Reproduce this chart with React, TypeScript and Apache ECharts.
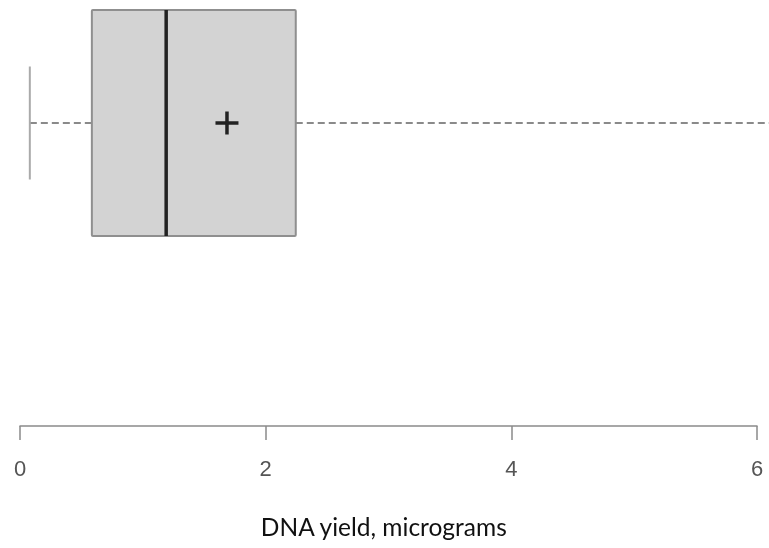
import React, { useEffect, useRef } from "react";
import * as echarts from "echarts";

const xTicks = [0, 2, 4, 6];
const boxStats = [{ min: 0.08, q1: 0.585, median: 1.19, q3: 2.245, max: 6.4, mean: 1.685 }];
const axisTitle = "DNA yield, micrograms";

export default function App() {
  const ref = useRef<HTMLDivElement>(null);
  useEffect(() => {
    if (!ref.current) return;
    const chart = echarts.init(ref.current, undefined, { renderer: "svg" });
    const data = boxStats.map((b) => [b.min, b.q1, b.median, b.q3, b.max, b.mean]);
    chart.setOption({
      animation: false,
      grid: { left: 20, right: 12, top: 0, bottom: 122 },
      xAxis: {
        type: "value",
        min: 0,
        max: 6,
        interval: 2,
        axisLine: { show: true, lineStyle: { color: "#8a8a8a", width: 1.5 } },
        axisTick: { show: true, inside: false, length: 14, lineStyle: { color: "#8a8a8a", width: 1.5 } },
        axisLabel: {
          margin: 31,
          fontSize: 22,
          color: "#555",
          fontFamily: "Liberation Sans",
          formatter: (v: number) => (xTicks.includes(v) ? String(v) : ""),
        },
        splitLine: { show: false },
      },
      yAxis: { type: "value", min: 0, max: 1, show: false },
      graphic: [
        {
          type: "text",
          left: "center",
          top: 514,
          style: {
            text: axisTitle,
            fontSize: 24.5,
            fill: "#111",
            fontFamily: "Lato",
          },
        },
      ],
      series: [
        {
          type: "custom",
          clip: false,
          data,
          renderItem: (params: any, api: any) => {
            const yc = 123;
            const half = 113;
            const cap = 56.5;
            const px = (v: number) => api.coord([v, 0.5])[0];
            const mn = px(api.value(0));
            const q1 = px(api.value(1));
            const md = px(api.value(2));
            const q3 = px(api.value(3));
            const mx = px(api.value(4));
            const me = px(api.value(5));
            return {
              type: "group",
              children: [
                { type: "line", shape: { x1: mn, y1: yc, x2: q1, y2: yc }, style: { stroke: "#8a8a8a", lineWidth: 2, lineDash: [7, 4] } },
                { type: "line", shape: { x1: q3, y1: yc, x2: mx, y2: yc }, style: { stroke: "#8a8a8a", lineWidth: 2, lineDash: [7, 4] } },
                { type: "line", shape: { x1: mn, y1: yc - cap, x2: mn, y2: yc + cap }, style: { stroke: "#aaaaaa", lineWidth: 2 } },
                { type: "line", shape: { x1: mx, y1: yc - cap, x2: mx, y2: yc + cap }, style: { stroke: "#aaaaaa", lineWidth: 2 } },
                { type: "rect", shape: { x: q1, y: yc - half, width: q3 - q1, height: 2 * half, r: 1 }, style: { fill: "#d3d3d3", stroke: "#8f8f8f", lineWidth: 2 } },
                { type: "line", shape: { x1: md, y1: yc - half, x2: md, y2: yc + half }, style: { stroke: "#222", lineWidth: 3.5 } },
                { type: "line", shape: { x1: me - 11.5, y1: yc, x2: me + 11.5, y2: yc }, style: { stroke: "#222", lineWidth: 3.5 } },
                { type: "line", shape: { x1: me, y1: yc - 11.5, x2: me, y2: yc + 11.5 }, style: { stroke: "#222", lineWidth: 3.5 } },
              ],
            };
          },
        },
      ],
    });
    return () => chart.dispose();
  }, []);
  return <div ref={ref} style={{ position: "fixed", left: 0, top: 0, width: 769, height: 548 }} />;
}
